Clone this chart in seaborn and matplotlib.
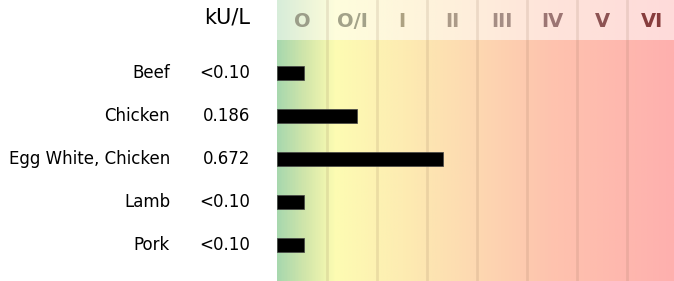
import numpy as np
import seaborn as sns
import matplotlib.pyplot as plt
from matplotlib.colors import LinearSegmentedColormap

# Data
allergens = ["Beef", "Chicken", "Egg White, Chicken", "Lamb", "Pork"]
results = ["<0.10", "0.186", "0.672", "<0.10", "<0.10"]
# bar length in class units
scores = [0.53, 1.59, 3.32, 0.53, 0.53]
classes = ["O", "O/I", "I", "II", "III", "IV", "V", "VI"]
class_colors = ["#9b9d89", "#a3a289", "#ada282", "#ab9a88", "#a58d84",
                "#9c7573", "#8d5353", "#873c3c"]

sns.set_style("white")
plt.rcParams["font.family"] = ["DejaVu Sans"]
plt.rcParams["text.color"] = "black"
plt.rcParams["ytick.color"] = "black"

x_max = 7.94
cmap = LinearSegmentedColormap.from_list("allergy", [
    (0.0, "#a8d8ae"),
    (0.55 / x_max, "#d2e6aa"),
    (1.15 / x_max, "#fdfcb2"),
    (2.5 / x_max, "#fdecb2"),
    (4.0 / x_max, "#fdd8b1"),
    (5.5 / x_max, "#fec3ae"),
    (1.0, "#ffb0ae"),
])
grad = np.linspace(0, 1, 400).reshape(1, -1)

fig = plt.figure(figsize=(6.74, 2.81), dpi=100)
left = 277 / 674
ax_head = fig.add_axes([left, 1 - 40 / 281, 1 - left, 40 / 281])
ax = fig.add_axes([left, 0, 1 - left, 1 - 40 / 281])

# Header band
ax_head.imshow(grad, cmap=cmap, extent=(0, x_max, 0, 1), aspect="auto",
               zorder=0)
ax_head.axhspan(0, 1, color="white", alpha=0.55, zorder=1, lw=0)
for i, (c, col) in enumerate(zip(classes, class_colors)):
    ax_head.text(i + 0.5, 0.47, c, ha="center", va="center",
                 fontsize=14, fontweight="bold", color=col, zorder=3)
ax_head.set_xlim(0, x_max)
ax_head.set_ylim(0, 1)
ax_head.axis("off")
ax_head.text(-27 / 397, 0.57, "kU/L", transform=ax_head.transAxes,
             ha="right", va="center", fontsize=15, color="black")

# Main plot
ax.imshow(grad, cmap=cmap, extent=(0, x_max, 4.84, -0.77), aspect="auto",
          zorder=0)
sns.barplot(x=scores, y=allergens, color="black", width=0.31, orient="h",
            ax=ax, zorder=2, saturation=1, edgecolor="#444444", linewidth=0.5)
ax.set_xlim(0, x_max)
ax.set_ylim(4.84, -0.77)

for a in (ax, ax_head):
    for b in range(1, 8):
        a.axvline(b, color="#8a6a50", alpha=0.15, lw=2, zorder=1)

ax.set_xticks([])
ax.set_yticks(range(len(allergens)))
ax.set_yticklabels(allergens, fontsize=12, color="black", va="center")
ax.tick_params(axis="y", length=0, pad=77)
ax.set_xlabel("")
ax.set_ylabel("")
for s in ax.spines.values():
    s.set_visible(False)

for i, r in enumerate(results):
    ax.annotate(r, xy=(0, i), xycoords=("axes fraction", "data"),
                xytext=(-19.5, 0), textcoords="offset points",
                ha="right", va="center", fontsize=12, color="black")

fig.savefig("out.png", dpi=100)
